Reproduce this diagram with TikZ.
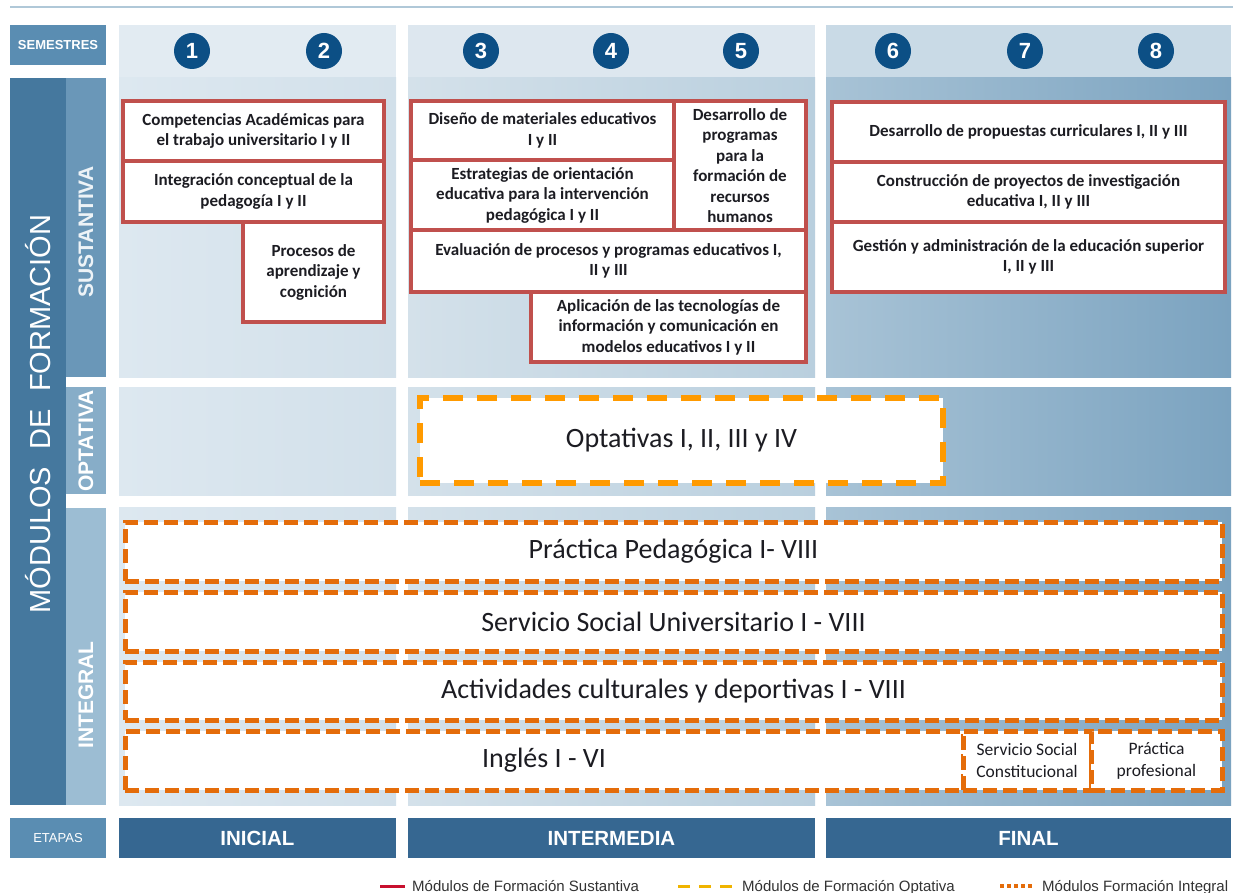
\documentclass[tikz,border=0pt]{standalone}
\usepackage{fontspec}
\setmainfont{Carlito}
\newfontfamily\arialf{Liberation Sans}
\definecolor{navyc}{HTML}{0C4F85}
\definecolor{lblue}{HTML}{5A8DB2}
\definecolor{stagec}{HTML}{366791}
\definecolor{mdark}{HTML}{45789E}
\definecolor{subS}{HTML}{6A97B8}
\definecolor{subO}{HTML}{87ADC8}
\definecolor{subI}{HTML}{9CBDD3}
\definecolor{sred}{HTML}{C0504D}
\definecolor{iorange}{HTML}{E46C0A}
\definecolor{oyel}{HTML}{FF9A00}
\definecolor{txt}{HTML}{1C1C22}
\definecolor{topline}{HTML}{B0C8D8}
\definecolor{hA}{HTML}{E2EBF2}
\definecolor{hB}{HTML}{DDE7EF}
\definecolor{hC}{HTML}{C9DAE6}
\definecolor{aL}{HTML}{DDE8F0}
\definecolor{aR}{HTML}{D2E0EA}
\definecolor{bL}{HTML}{D4E1EA}
\definecolor{bR}{HTML}{B9CFDE}
\definecolor{cL}{HTML}{A8C3D6}
\definecolor{cR}{HTML}{7BA3C0}
\definecolor{legred}{HTML}{C8102E}
\definecolor{legyel}{HTML}{F0B400}
% box from corners: style, name, x1, y1, x2, y2, text
\newcommand\bx[7]{%
  \pgfmathsetmacro\bxw{#5-#3}\pgfmathsetmacro\bxh{#6-#4}%
  \pgfmathsetmacro\bxx{(#3+#5)/2}\pgfmathsetmacro\bxy{(#4+#6)/2}%
  \node[#1, minimum width=\bxw pt, minimum height=\bxh pt] (#2) at (\bxx,\bxy) {#7};}
\begin{document}
\begin{tikzpicture}[x=1pt,y=-1pt,
  sbox/.style={draw=sred, line width=3.5pt, fill=white, inner sep=0pt, align=center,
    text=txt, font=\bfseries\fontsize{17}{20.5}\selectfont},
  ibox/.style={draw=iorange, line width=5pt, dash pattern=on 14pt off 6pt, fill=white,
    inner sep=0pt, align=center, text=txt, font=\fontsize{28}{32}\selectfont},
  ismall/.style={ibox, font=\fontsize{17.5}{22}\selectfont},
  obox/.style={draw=oyel, line width=6pt, dash pattern=on 20pt off 14pt, fill=white,
    inner sep=0pt, align=center, text=txt, font=\fontsize{28}{32}\selectfont},
  semc/.style={circle, fill=navyc, minimum size=36pt, inner sep=0pt, text=white,
    font=\arialf\bfseries\fontsize{22}{22}\selectfont},
  stagebox/.style={fill=stagec, inner sep=0pt, text=white,
    font=\arialf\bfseries\fontsize{20.5}{20.5}\selectfont},
  sidelab/.style={rotate=90, text=white, font=\arialf\bfseries\fontsize{21}{21}\selectfont},
  smalllab/.style={fill=lblue, inner sep=0pt, text=white, font=\arialf\fontsize{13}{13}\selectfont},
  legtext/.style={anchor=base west, text=black!80, font=\arialf\fontsize{15}{15}\selectfont, inner sep=0pt}
]
\useasboundingbox (0,0) rectangle (1233,893);
\fill[white] (0,0) rectangle (1233,893);
\draw[topline, line width=2pt] (10,7) -- (1233,7);

% column headers
\fill[hA] (119,25) rectangle (396,78);
\fill[hB] (408,25) rectangle (815,78);
\fill[hC] (826,25) rectangle (1231,78);
% body rows
\foreach \ya/\yb in {78/377, 387/495, 507/805}{
  \shade[left color=aL, right color=aR] (119,\ya) rectangle (396,\yb);
  \shade[left color=bL, right color=bR] (408,\ya) rectangle (815,\yb);
  \shade[left color=cL, right color=cR] (826,\ya) rectangle (1231,\yb);
}

% left column
\bx{smalllab, font=\arialf\bfseries\fontsize{13}{13}\selectfont}{sem}{10}{25}{106}{65}{SEMESTRES}
\fill[mdark] (10,78) rectangle (66,805);
\fill[subS] (66,78) rectangle (106,377);
\fill[subO] (66,387) rectangle (106,494);
\fill[subI] (66,508) rectangle (106,805);
\node[rotate=90, text=white, font=\arialf\fontsize{29}{29}\selectfont] (mod) at (38,414)
  {MÓDULOS\hspace{0.6em}DE\hspace{0.6em}FORMACIÓN};
\node[sidelab, text=white!88!subS] (lsus) at (86,232) {SUSTANTIVA};
\node[sidelab] (lopt) at (86,441) {OPTATIVA};
\node[sidelab] (lint) at (86,695) {INTEGRAL};

% semester circles
\node[semc] (c1) at (192,51) {1};
\node[semc] (c2) at (324,51) {2};
\node[semc] (c3) at (481,51) {3};
\node[semc] (c4) at (611,51) {4};
\node[semc] (c5) at (741,51) {5};
\node[semc] (c6) at (893,51) {6};
\node[semc] (c7) at (1025,51) {7};
\node[semc] (c8) at (1156,51) {8};

% sustantiva boxes col 1
\bx{sbox}{s11}{123}{101}{384}{161}{Competencias Académicas para\\el trabajo universitario I y II}
\bx{sbox}{s12}{123}{161}{384}{222}{Integración conceptual de la\\pedagogía I y II}
\bx{sbox}{s13}{243}{222}{384}{322}{Procesos de\\aprendizaje y\\cognición}
% col 2
\bx{sbox}{s21}{411}{101}{674}{160}{Diseño de materiales educativos\\I y II}
\bx{sbox}{s22}{411}{160}{674}{230}{Estrategias de orientación\\educativa para la intervención\\pedagógica I y II}
\bx{sbox}{s23}{674}{101}{806}{230}{Desarrollo de\\programas\\para la\\formación de\\recursos\\humanos}
\bx{sbox}{s24}{411}{230}{806}{292}{Evaluación de procesos y programas educativos I,\\II y III}
\bx{sbox}{s25}{531}{292}{806}{362}{Aplicación de las tecnologías de\\información y comunicación en\\modelos educativos I y II}
% col 3
\bx{sbox}{s31}{832}{102}{1225}{162}{Desarrollo de propuestas curriculares I, II y III}
\bx{sbox}{s32}{832}{162}{1225}{222}{Construcción de proyectos de investigación\\educativa I, II y III}
\bx{sbox}{s33}{832}{222}{1225}{292}{Gestión y administración de la educación superior\\I, II y III}

% optativa
\bx{obox}{opt}{420}{398}{943}{483}{Optativas I, II, III y IV}

% integral
\bx{ibox}{i1}{125}{522}{1222}{581}{Práctica Pedagógica I- VIII}
\bx{ibox}{i2}{125}{592}{1222}{651}{Servicio Social Universitario I - VIII}
\bx{ibox}{i3}{125}{662}{1222}{720}{Actividades culturales y deportivas I - VIII}
\bx{ibox}{i4}{125}{731}{963}{790}{Inglés I - VI}
\bx{ismall}{i5}{963}{731}{1091}{790}{Servicio Social\\Constitucional}
\bx{ismall}{i6}{1091}{731}{1222}{790}{Práctica\\profesional}

% etapas
\bx{smalllab}{eta}{10}{818}{106}{858}{ETAPAS}
\bx{stagebox}{e1}{119}{818}{396}{858}{INICIAL}
\bx{stagebox}{e2}{408}{818}{815}{858}{INTERMEDIA}
\bx{stagebox}{e3}{826}{818}{1231}{858}{FINAL}

% legend
\draw[legred, line width=3pt] (380,886) -- (405,886);
\node[legtext] (l1) at (412,891) {Módulos de Formación Sustantiva};
\draw[legyel, line width=3pt, dash pattern=on 12pt off 9pt] (678,886) -- (735,886);
\node[legtext] (l2) at (742,891) {Módulos de Formación Optativa};
\draw[iorange, line width=3.5pt, dash pattern=on 3.5pt off 3.5pt] (1000,886) -- (1035,886);
\node[legtext] (l3) at (1042,891) {Módulos Formación Integral};
\end{tikzpicture}
\end{document}
